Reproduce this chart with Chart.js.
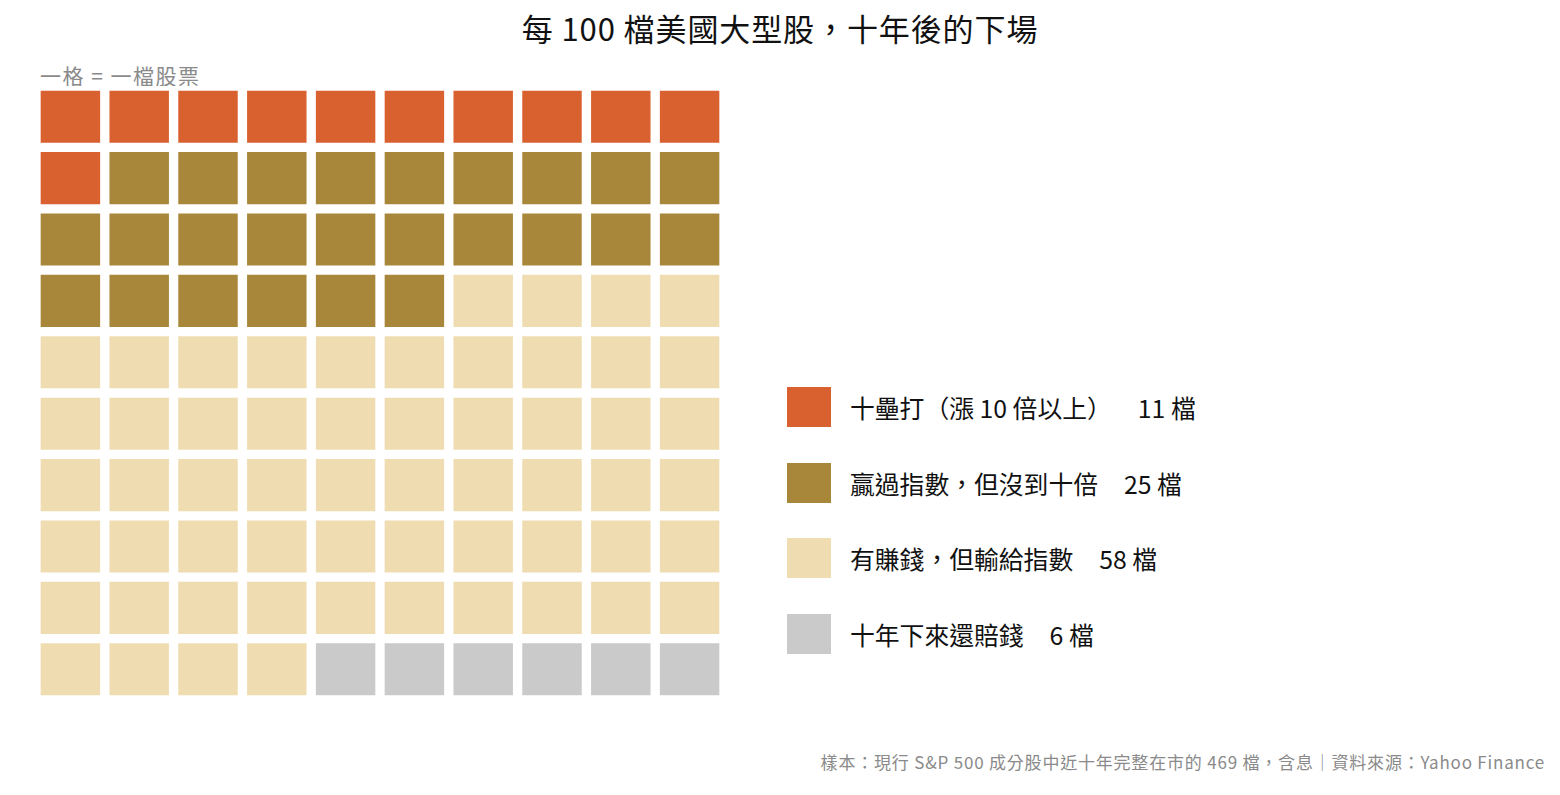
<!DOCTYPE html>
<html>
<head>
<meta charset="utf-8">
<script src="https://cdn.jsdelivr.net/npm/chart.js@4.4.1/dist/chart.umd.min.js"></script>
<style>
    body { margin: 0; background: #fff; font-family: "Noto Sans CJK TC", "Noto Sans", sans-serif; }
    #page { position: relative; width: 1560px; height: 795px; overflow: hidden; }
    #title { position: absolute; left: 0; width: 1560px; top: 5px; text-align: center; font-size: 31px; letter-spacing: 0.9px; color: #111; }
    #unit { position: absolute; left: 40px; top: 60px; font-size: 21px; letter-spacing: 1.5px; color: #8a8a8a; }
    #grid-box { position: absolute; left: 36px; top: 86px; width: 688px; height: 614px; }
    #legend { position: absolute; left: 787px; top: 387px; }
    .legend-row { display: flex; align-items: center; height: 40px; margin-bottom: 35.5px; font-size: 24.8px; color: #111; }
    .legend-box { width: 44px; height: 40px; margin-right: 19px; }
    .legend-count { margin-left: 26px; }
    #footer { position: absolute; right: 15px; top: 749px; font-size: 17px; letter-spacing: 0.8px; color: #8a8a8a; }
</style>
</head>
<body>
<div id="page">
    <div id="title">每 100 檔美國大型股，十年後的下場</div>
    <div id="unit">一格 = 一檔股票</div>
    <div id="grid-box"><canvas id="waffleChart"></canvas></div>
    <div id="legend"></div>
    <div id="footer">樣本：現行 S&amp;P 500 成分股中近十年完整在市的 469 檔，含息｜資料來源：Yahoo Finance</div>
</div>
<script>
// one cell = one stock, 100 cells in a 10 x 10 grid
const groups = ['十壘打（漲 10 倍以上）', '贏過指數，但沒到十倍', '有賺錢，但輸給指數', '十年下來還賠錢']
const counts = [11, 25, 58, 6]
const colors = ['#D96130', '#A8873B', '#F0DCB1', '#C9CAC9']
const columns = ['1', '2', '3', '4', '5', '6', '7', '8', '9', '10']
const rows = ['1', '2', '3', '4', '5', '6', '7', '8', '9', '10']

function groupOfCell(k) {
    let total = 0
    for (let g = 0; g < counts.length; g++) {
        total += counts[g]
        if (k < total) return g
    }
    return counts.length - 1
}

function build_datasets() {
    let datasets = []
    for (let r = 0; r < rows.length; r++) {
        let bg = []
        let vals = []
        for (let c = 0; c < columns.length; c++) {
            bg.push(colors[groupOfCell(r * columns.length + c)])
            vals.push(1)
        }
        datasets.push({
            label: 'row ' + rows[r],
            data: vals,
            backgroundColor: bg,
            borderColor: '#ffffff',
            borderWidth: 5,
            borderSkipped: false,
            barPercentage: 1,
            categoryPercentage: 1
        })
    }
    return datasets
}

function create_legend(targetContainer) {
    for (let i = 0; i < groups.length; i++) {
        let row = document.createElement('div')
        row.className = 'legend-row'
        let box = document.createElement('div')
        box.className = 'legend-box'
        box.style.background = colors[i]
        let label = document.createElement('span')
        label.innerText = groups[i]
        let count = document.createElement('span')
        count.className = 'legend-count'
        count.innerText = counts[i] + ' 檔'
        row.appendChild(box)
        row.appendChild(label)
        row.appendChild(count)
        targetContainer.appendChild(row)
    }
}

let ctx = document.getElementById('waffleChart')
new Chart(ctx, {
    type: 'bar',
    data: {
        labels: columns,
        datasets: build_datasets()
    },
    options: {
        responsive: true,
        maintainAspectRatio: false,
        animation: false,
        layout: { padding: 0 },
        scales: {
            x: { stacked: true, display: false },
            y: { stacked: true, display: false, reverse: true, min: 0, max: rows.length }
        },
        plugins: {
            legend: { display: false },
            tooltip: { enabled: false }
        }
    }
})

create_legend(document.getElementById('legend'))
</script>
</body>
</html>
